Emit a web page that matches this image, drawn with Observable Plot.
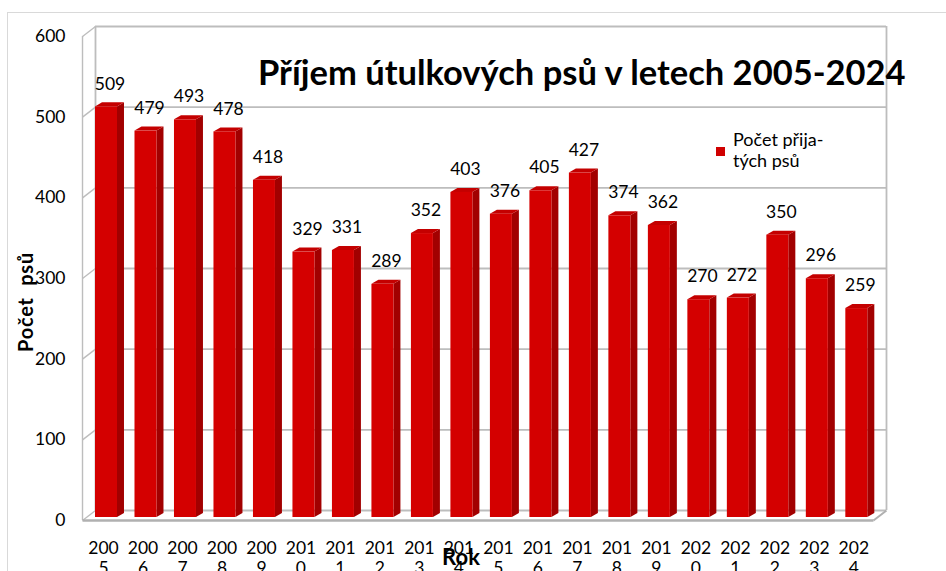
<!DOCTYPE html>
<html>
<head>
<meta charset="utf-8">
<script src="https://cdn.jsdelivr.net/npm/d3@7"></script>
<script src="https://cdn.jsdelivr.net/npm/@observablehq/plot@0.6"></script>
<style>
  html, body { margin: 0; padding: 0; background: #fff; }
  #wrap { position: relative; width: 946px; height: 571px; overflow: hidden; font-family: Lato, "Open Sans", sans-serif; color: #000; }
  #border { position: absolute; left: 7px; top: 12px; width: 960px; height: 600px; border-left: 1px solid #d9d9d9; border-top: 1px solid #d9d9d9; }
  #chart { position: absolute; left: 0; top: 0; }
  #title { position: absolute; left: 258px; top: 49px; font-size: 34.5px; font-weight: bold; white-space: nowrap; line-height: 46px; color: #000; }
  #ytitle { position: absolute; left: 25px; top: 302px; transform: translate(-50%, -50%) rotate(-90deg); font-size: 20px; font-weight: bold; white-space: pre; color: #000; letter-spacing: 0.8px; }
  #xtitle { position: absolute; left: 461px; top: 556px; transform: translate(-50%, -50%); font-size: 22px; font-weight: bold; color: #000; }
  #legend { position: absolute; left: 716px; top: 129px; font-size: 18px; line-height: 21px; color: #000; }
  #legend .sw { position: absolute; left: 0; top: 18px; width: 9px; height: 9px; background: #d00000; }
  #legend .tx { position: absolute; left: 17px; top: 0; white-space: nowrap; }
</style>
</head>
<body>
<div id="wrap">
  <div id="border"></div>
  <div id="chart"></div>
  <div id="title">Příjem útulkových psů v letech 2005-2024</div>
  <div id="ytitle">Počet  psů</div>
  <div id="xtitle">Rok</div>
  <div id="legend"><div class="sw"></div><div class="tx">Počet přija-<br>tých psů</div></div>
</div>
<script>
// ---- data ----
const years = ["2005","2006","2007","2008","2009","2010","2011","2012","2013","2014",
               "2015","2016","2017","2018","2019","2020","2021","2022","2023","2024"];
const values = [509, 479, 493, 478, 418, 329, 331, 289, 352, 403,
                376, 405, 427, 374, 362, 270, 272, 350, 296, 259];
const yTicks = [0, 100, 200, 300, 400, 500, 600];

// ---- geometry helpers (in data units of the linear scales) ----
const XMAX = 20.03;           // x domain end (back wall right)
const W = 0.557;              // bar front face width (in slot units)
const SD = 0.177;             // bar depth (x)
const SH = 5.0;               // bar depth (y, value units)
const WD = 0.329;             // wall depth (x)
const WH = 12.4;              // wall depth (y, value units)
const FLOOR_END = 19.70;      // front floor right end

const bars = years.map((year, i) => ({year, i, v: values[i]}));

// side faces: parallelograms
const sideFaces = bars.flatMap(d => [
  {year: d.year, x: d.i + W, y1: 0, y2: d.v},
  {year: d.year, x: d.i + W + SD, y1: SH, y2: d.v + SH}
]);
// top faces
const topFaces = bars.flatMap(d => [
  {year: d.year, y: d.v, x1: d.i, x2: d.i + W},
  {year: d.year, y: d.v + SH, x1: d.i + SD, x2: d.i + W + SD}
]);

const gridColor = "#bdbdbd";

const chart = Plot.plot({
  width: 946,
  height: 571,
  marginLeft: 95,
  marginRight: 60,
  marginTop: 33,
  marginBottom: 54,
  style: {background: "transparent", overflow: "visible", fontFamily: "Lato, 'Open Sans', sans-serif"},
  x: {type: "linear", domain: [0, XMAX], axis: null},
  y: {type: "linear", domain: [0, 600], axis: null},
  marks: [
    // back wall gridlines
    Plot.ruleY(yTicks, {y: d => d + WH, stroke: gridColor, strokeWidth: 1.8, dy: 3}),
    // back wall left & right verticals
    Plot.ruleX([0, XMAX], {y1: WH, y2: 600 + WH, dy: 3, stroke: gridColor, strokeWidth: 1.8}),
    // front axis line
    Plot.ruleX([-WD], {y1: 0, y2: 600, dy: 3, stroke: gridColor, strokeWidth: 1.4}),
    // diagonals from front axis to back wall
    Plot.link(yTicks, {x1: -WD, y1: d => d, x2: 0, y2: d => d + WH, dy: 3, stroke: gridColor, strokeWidth: 1.4}),
    // floor front edge and right diagonal
    Plot.link([0], {x1: -WD, y1: 0, x2: FLOOR_END, y2: 0, dy: 3, stroke: "#b0b0b0", strokeWidth: 2.4}),
    Plot.link([0], {x1: FLOOR_END, y1: 0, x2: XMAX, y2: WH, dy: 3, stroke: "#b0b0b0", strokeWidth: 2}),
    // bars
    Plot.areaY(sideFaces, {x: "x", y1: "y1", y2: "y2", z: "year", fill: "#a20000", curve: "linear"}),
    Plot.areaX(topFaces, {y: "y", x1: "x1", x2: "x2", z: "year", fill: "#c40000", curve: "linear"}),
    Plot.rect(bars, {x1: d => d.i, x2: d => d.i + W, y1: 0, y2: "v", fill: "#d40000"}),
    // value labels
    Plot.text(bars, {x: d => d.i + (W + SD) / 2, y: "v", text: d => String(d.v), dy: -23, fontSize: 17.5, fill: "#000"}),
    // y tick labels
    Plot.text(yTicks, {x: 0, y: d => d, text: d => String(d), textAnchor: "end", dx: -30, dy: 3, fontSize: 17.5, fill: "#000"}),
    // x tick labels (two lines like the original)
    Plot.text(bars, {x: d => d.i + W / 2, y: 0, text: d => d.year.slice(0, 3) + "\n" + d.year.slice(3), lineAnchor: "top", lineHeight: 1.15, dx: -3, dy: 22, fontSize: 17.5, fill: "#000"})
  ]
});
document.getElementById("chart").appendChild(chart);
</script>
</body>
</html>
